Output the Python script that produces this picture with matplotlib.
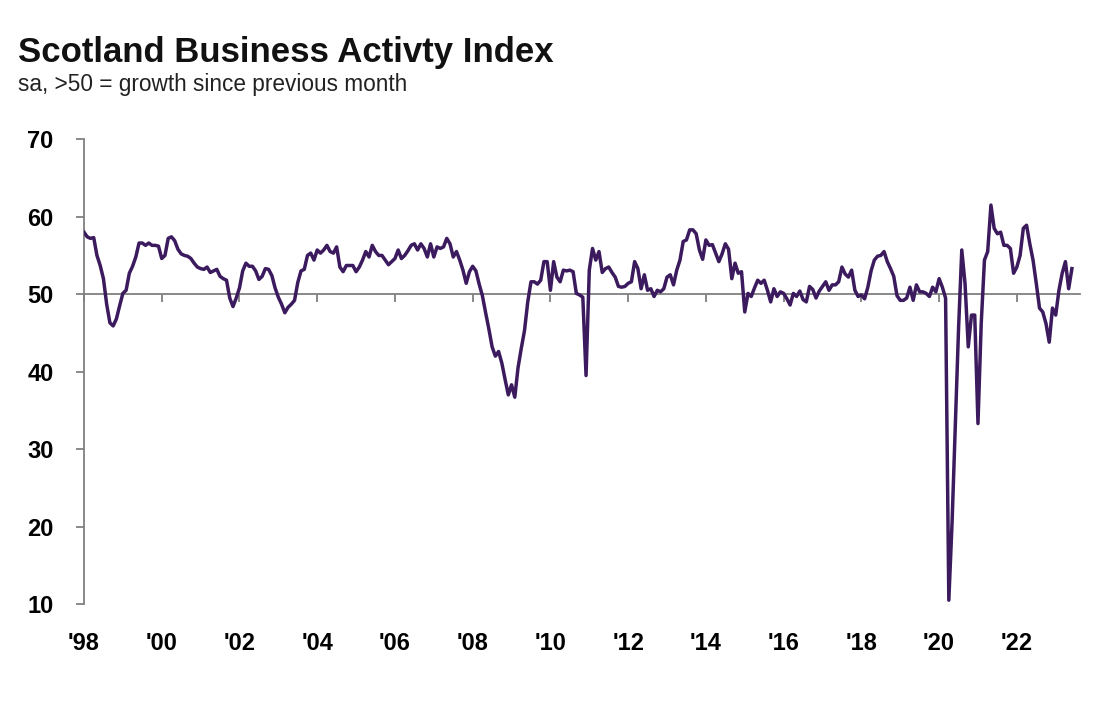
import matplotlib.pyplot as plt

plt.rcParams['font.family'] = ['Liberation Sans', 'DejaVu Sans']

# monthly index values, Jan 1998 - Jun 2023
y1998 = [58.0, 57.4, 57.2, 57.3, 55.0, 53.7, 52.0, 48.7, 46.3, 45.9, 46.8, 48.5]
y1999 = [50.1, 50.5, 52.7, 53.6, 54.8, 56.6, 56.6, 56.3, 56.6, 56.3, 56.3, 56.2]
y2000 = [54.6, 55.0, 57.2, 57.4, 56.9, 55.8, 55.2, 55.0, 54.9, 54.6, 54.0, 53.5]
y2001 = [53.3, 53.2, 53.5, 52.8, 53.0, 53.2, 52.3, 52.0, 51.8, 49.5, 48.4, 49.5]
y2002 = [50.8, 53.0, 54.0, 53.6, 53.6, 53.0, 51.9, 52.3, 53.3, 53.2, 52.4, 50.8]
y2003 = [49.6, 48.7, 47.6, 48.3, 48.7, 49.2, 51.5, 53.0, 53.2, 55.0, 55.3, 54.4]
y2004 = [55.7, 55.3, 55.7, 56.3, 55.5, 55.3, 56.1, 53.5, 52.9, 53.7, 53.7, 53.7]
y2005 = [52.9, 53.5, 54.4, 55.5, 54.8, 56.3, 55.5, 55.0, 55.0, 54.4, 53.8, 54.2]
y2006 = [54.6, 55.7, 54.6, 55.0, 55.6, 56.3, 56.5, 55.7, 56.5, 55.9, 54.8, 56.5]
y2007 = [54.8, 56.1, 55.9, 56.1, 57.2, 56.5, 54.8, 55.5, 54.4, 53.1, 51.4, 52.9]
y2008 = [53.6, 53.0, 51.3, 49.8, 47.6, 45.5, 43.2, 42.0, 42.6, 41.1, 39.0, 37.0]
y2009 = [38.3, 36.7, 40.5, 43.0, 45.3, 49.0, 51.6, 51.6, 51.3, 51.8, 54.2, 54.2]
y2010 = [50.5, 54.2, 52.2, 51.6, 53.1, 53.0, 53.1, 52.9, 50.1, 49.9, 49.6, 39.5]
y2011 = [53.1, 55.9, 54.4, 55.5, 52.8, 53.3, 53.5, 52.8, 52.2, 51.0, 50.9, 51.0]
y2012 = [51.4, 51.6, 54.2, 53.3, 50.7, 52.5, 50.5, 50.7, 49.7, 50.5, 50.3, 50.7]
y2013 = [52.2, 52.5, 51.2, 53.1, 54.4, 56.8, 57.0, 58.3, 58.3, 57.8, 55.7, 54.5]
y2014 = [57.0, 56.3, 56.4, 55.3, 54.2, 55.2, 56.5, 55.8, 52.0, 54.0, 52.7, 52.9]
y2015 = [47.7, 50.1, 49.7, 50.8, 51.8, 51.4, 51.8, 50.5, 49.0, 50.7, 49.7, 50.3]
y2016 = [50.1, 49.4, 48.6, 50.1, 49.7, 50.4, 49.3, 49.0, 51.0, 50.6, 49.5, 50.4]
y2017 = [51.0, 51.6, 50.5, 51.2, 51.2, 51.6, 53.5, 52.6, 52.2, 53.1, 50.5, 49.7]
y2018 = [49.9, 49.4, 50.9, 53.0, 54.4, 54.9, 55.0, 55.5, 54.2, 53.3, 52.3, 49.8]
y2019 = [49.2, 49.2, 49.5, 50.9, 49.2, 51.2, 50.3, 50.3, 50.1, 49.7, 50.9, 50.3]
y2020 = [52.0, 50.9, 49.5, 10.5, 20.5, 33.0, 45.5, 55.7, 51.4, 43.2, 47.3, 47.3]
y2021 = [33.3, 46.2, 54.4, 55.5, 61.5, 58.5, 57.8, 58.0, 56.3, 56.3, 55.9, 52.7]
y2022 = [53.5, 55.0, 58.5, 58.9, 56.5, 54.4, 51.4, 48.2, 47.7, 46.2, 43.8, 48.2]
y2023 = [47.3, 50.5, 52.7, 54.2, 50.7, 53.3]

values = (y1998 + y1999 + y2000 + y2001 + y2002 + y2003 + y2004 + y2005 + y2006
          + y2007 + y2008 + y2009 + y2010 + y2011 + y2012 + y2013 + y2014 + y2015
          + y2016 + y2017 + y2018 + y2019 + y2020 + y2021 + y2022 + y2023)
months = list(range(len(values)))

tick_years = ["'98", "'00", "'02", "'04", "'06", "'08", "'10", "'12",
              "'14", "'16", "'18", "'20", "'22"]
tick_pos = [24 * i for i in range(len(tick_years))]

fig = plt.figure(figsize=(11.11, 7.24), dpi=100)
ax = fig.add_axes([0.0756, 0.1657, 0.8965, 0.642])

ax.plot(months, values, color='#3b1a5e', lw=2.5, solid_joinstyle='round', zorder=3)

ax.set_xlim(0, 307.5)
ax.set_ylim(10, 70)
ax.set_yticks([10, 20, 30, 40, 50, 60, 70])

# axis line at 50 with ticks hanging below it
ax.spines['bottom'].set_position(('data', 50))
ax.spines['bottom'].set_color('#808080')
ax.spines['bottom'].set_linewidth(1.3)
ax.spines['left'].set_color('#808080')
ax.spines['left'].set_linewidth(1.3)
ax.spines['top'].set_visible(False)
ax.spines['right'].set_visible(False)
ax.set_xticks(tick_pos)
ax.tick_params(axis='x', direction='out', length=6, width=1.3, color='#808080',
               labelbottom=False)
ax.tick_params(axis='y', direction='out', length=6, width=1.3, color='#808080',
               labelsize=17, pad=16)
for lbl in ax.get_yticklabels():
    lbl.set_fontweight('bold')

# year labels at the bottom of the plot
sec = ax.secondary_xaxis(0)
sec.set_xticks(tick_pos, tick_years)
sec.spines['bottom'].set_visible(False)
sec.tick_params(length=0, labelsize=17, pad=20)
for lbl in sec.get_xticklabels():
    lbl.set_fontweight('bold')

fig.text(0.016, 0.915, "Scotland Business Activty Index", fontsize=25,
         fontweight='bold', color='#111111')
fig.text(0.016, 0.874, "sa, >50 = growth since previous month", fontsize=16.3,
         color='#222222')

fig.savefig('out.png', dpi=100)
